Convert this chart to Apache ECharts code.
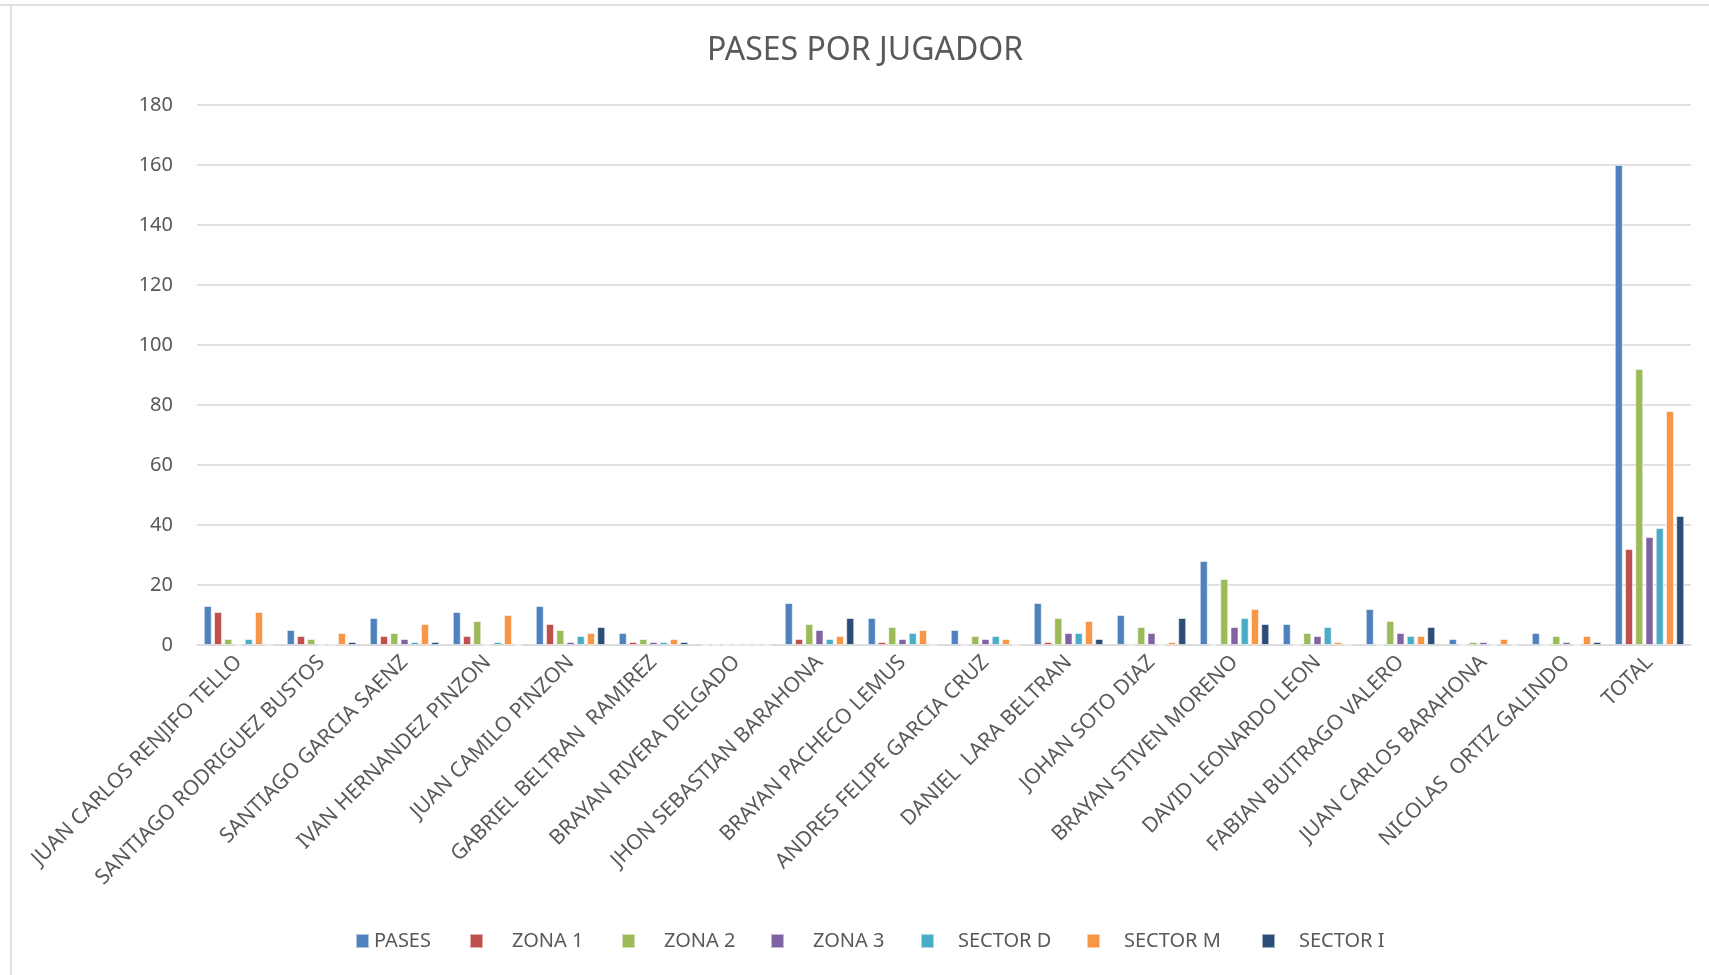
<!DOCTYPE html>
<html>
<head>
<meta charset="utf-8">
<script src="https://cdn.jsdelivr.net/npm/echarts@6/dist/echarts.min.js"></script>
<style>
  html, body { margin: 0; padding: 0; background: #fff; }
  #main { width: 1709px; height: 975px; }
</style>
</head>
<body>
<div id="main"></div>
<script>
// jugadores (eje x)
var players = [
  'JUAN CARLOS RENJIFO TELLO', 'SANTIAGO RODRIGUEZ BUSTOS', 'SANTIAGO GARCIA SAENZ',
  'IVAN HERNANDEZ PINZON', 'JUAN CAMILO PINZON', 'GABRIEL BELTRAN  RAMIREZ',
  'BRAYAN RIVERA DELGADO', 'JHON SEBASTIAN BARAHONA', 'BRAYAN PACHECO LEMUS',
  'ANDRES FELIPE GARCIA CRUZ', 'DANIEL  LARA BELTRAN', 'JOHAN SOTO DIAZ',
  'BRAYAN STIVEN MORENO', 'DAVID LEONARDO LEON', 'FABIAN BUITRAGO VALERO',
  'JUAN CARLOS BARAHONA', 'NICOLAS  ORTIZ GALINDO', 'TOTAL'
];
var seriesNames = ['PASES', 'ZONA 1', 'ZONA 2', 'ZONA 3', 'SECTOR D', 'SECTOR M', 'SECTOR I'];

var pases    = [13, 5, 9, 11, 13, 4, 0, 14, 9, 5, 14, 10, 28, 7, 12, 2, 4, 160];
var zona1    = [11, 3, 3, 3, 7, 1, 0, 2, 1, 0, 1, 0, 0, 0, 0, 0, 0, 32];
var zona2    = [2, 2, 4, 8, 5, 2, 0, 7, 6, 3, 9, 6, 22, 4, 8, 1, 3, 92];
var zona3    = [0, 0, 2, 0, 1, 1, 0, 5, 2, 2, 4, 4, 6, 3, 4, 1, 1, 36];
var sectorD  = [2, 0, 1, 1, 3, 1, 0, 2, 4, 3, 4, 0, 9, 6, 3, 0, 0, 39];
var sectorM  = [11, 4, 7, 10, 4, 2, 0, 3, 5, 2, 8, 1, 12, 1, 3, 2, 3, 78];
var sectorI  = [0, 1, 1, 0, 6, 1, 0, 9, 0, 0, 2, 9, 7, 0, 6, 0, 1, 43];

var seriesData = [pases, zona1, zona2, zona3, sectorD, sectorM, sectorI];
var colors = ['#4F81BD', '#C0504D', '#9BBB59', '#8064A2', '#4BACC6', '#F79646', '#2C4D75'];

var txtColor = '#595959';
var gridColor = '#d9d9d9';
var font = 'Noto Sans';

var myChart = echarts.init(document.getElementById('main'));

var mySeries = [];
for (var i = 0; i < seriesData.length; i = i + 1) {
  mySeries.push({
    name: seriesNames[i],
    type: 'bar',
    data: seriesData[i],
    barWidth: 8,
    barGap: '28%',
    itemStyle: {
      color: colors[i],
      borderColor: 'rgba(255,255,255,0.55)',
      borderWidth: 1
    }
  });
}

// leyenda: un bloque por serie, con la separación que tiene el original
var legendLeft = [355, 469, 621, 770, 920, 1086, 1261];
var legendPad = [0, 24, 24, 24, 19, 19, 19];
var myLegends = [];
for (var j = 0; j < seriesNames.length; j = j + 1) {
  myLegends.push({
    data: [seriesNames[j]],
    left: legendLeft[j],
    top: 931,
    padding: 0,
    icon: 'rect',
    itemWidth: 13,
    itemHeight: 14,
    selectedMode: false,
    textStyle: {
      color: txtColor,
      fontFamily: font,
      fontSize: 20,
      padding: [0, 0, 0, legendPad[j]]
    }
  });
}

var option = {
  animation: false,
  backgroundColor: '#fff',
  title: {
    text: 'PASES POR JUGADOR',
    left: 702,
    top: 30,
    textStyle: {
      color: txtColor,
      fontFamily: font,
      fontSize: 32,
      fontWeight: 'normal'
    }
  },
  legend: myLegends,
  grid: {
    left: 197,
    right: 18,
    top: 105,
    bottom: 330
  },
  xAxis: {
    type: 'category',
    data: players,
    axisTick: { show: false },
    axisLine: { lineStyle: { color: gridColor, width: 1.5 } },
    axisLabel: {
      interval: 0,
      rotate: 45,
      margin: 14,
      color: txtColor,
      fontFamily: font,
      fontSize: 21
    }
  },
  yAxis: {
    type: 'value',
    min: 0,
    max: 180,
    interval: 20,
    axisLine: { show: false },
    axisTick: { show: false },
    splitLine: { lineStyle: { color: gridColor, width: 1.5 } },
    axisLabel: {
      margin: 24,
      color: txtColor,
      fontFamily: font,
      fontSize: 20
    }
  },
  graphic: [
    { type: 'line', shape: { x1: 0, y1: 5, x2: 1709, y2: 5 }, style: { stroke: gridColor, lineWidth: 1.5 } },
    { type: 'line', shape: { x1: 11, y1: 5, x2: 11, y2: 975 }, style: { stroke: gridColor, lineWidth: 1.5 } }
  ],
  series: mySeries
};

option && myChart.setOption(option);
</script>
</body>
</html>
